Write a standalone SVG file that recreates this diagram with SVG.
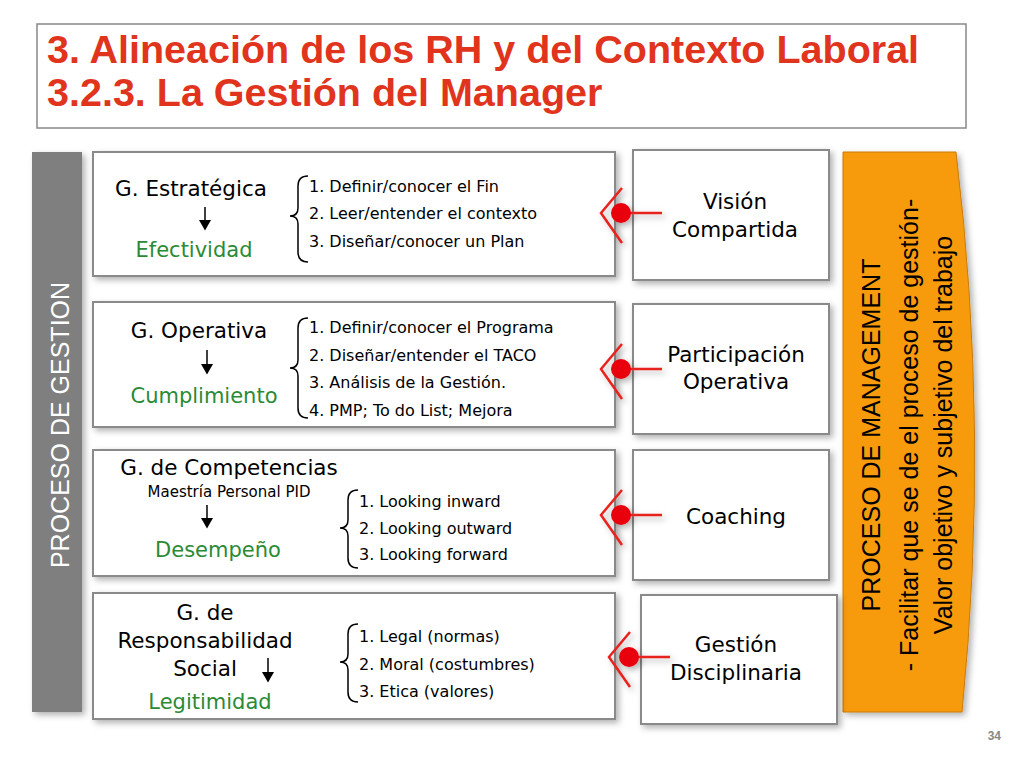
<svg xmlns="http://www.w3.org/2000/svg" width="1024" height="768" viewBox="0 0 1024 768">
<style>
.t{font-family:"Liberation Sans",Arial,sans-serif;font-weight:bold;font-size:39.5px;fill:#e0341d}
.v{font-family:"DejaVu Sans",Verdana,sans-serif;fill:#000}
.h{font-size:21.5px}
.i{font-size:16px}
.g{font-size:21px;fill:#2b8a35}
.box{fill:#fff;stroke:#8a8a8a;stroke-width:2}
.br{fill:none;stroke:#000;stroke-width:1.5}
.ar{stroke:#000;stroke-width:1.5;marker-end:url(#ah)}
.rl{fill:none;stroke:#e8211c;stroke-width:2.5}
.o{font-family:"Liberation Sans",Arial,sans-serif;font-size:25px;fill:#000}
</style>
<defs>
<marker id="ah" markerWidth="8" markerHeight="8" refX="6" refY="4" orient="auto"><path d="M0,0 L7,4 L0,8 z" fill="#000"/></marker>
<filter id="sh" x="-20%" y="-20%" width="140%" height="140%"><feDropShadow dx="3" dy="3" stdDeviation="3" flood-color="#000" flood-opacity="0.3"/></filter>
</defs>
<rect width="1024" height="768" fill="#fff"/>
<g id="title">
<rect x="37" y="24" width="929" height="104" fill="#fff" stroke="#888" stroke-width="1.5"/>
<text class="t" x="47" y="63">3. Alineación de los RH y del Contexto Laboral</text>
<text class="t" x="47" y="106">3.2.3. La Gestión del Manager</text>
</g>
<g id="gestion">
<rect x="32" y="152" width="50" height="560" fill="#7f7f7f" filter="url(#sh)"/>
<text transform="translate(69,425) rotate(-90)" text-anchor="middle" font-family="Liberation Sans,Arial,sans-serif" font-size="25" fill="#fff">PROCESO DE GESTION</text>
</g>
<g id="management">
<path d="M843,152 L956,152 Q990,432 962,712 L843,712 Z" fill="#f79b0f" stroke="#c77b0a" stroke-width="1" filter="url(#sh)"/>
<text transform="translate(880,435) rotate(-90)" text-anchor="middle" class="o">PROCESO DE MANAGEMENT</text>
<text transform="translate(918,435) rotate(-90)" text-anchor="middle" class="o">- Facilitar que se de el proceso de gestión-</text>
<text transform="translate(952,435) rotate(-90)" text-anchor="middle" class="o">Valor objetivo y subjetivo del trabajo</text>
</g>
<g id="row1">
<rect class="box" x="93" y="152" width="522" height="124" filter="url(#sh)"/>
<text class="v h" x="191" y="196" text-anchor="middle">G. Estratégica</text>
<line class="ar" x1="205" y1="207" x2="205" y2="229"/>
<text class="v g" x="194" y="257" text-anchor="middle">Efectividad</text>
<path class="br" d="M308,176 Q298,176 298,186 L298,208 Q298,216 290,216 Q298,216 298,224 L298,252 Q298,262 308,262"/>
<text class="v i" x="309" y="192">1. Definir/conocer el Fin</text>
<text class="v i" x="309" y="219">2. Leer/entender el contexto</text>
<text class="v i" x="309" y="247">3. Diseñar/conocer un Plan</text>
</g>
<g id="row2">
<rect class="box" x="93" y="302" width="522" height="125" filter="url(#sh)"/>
<text class="v h" x="199" y="338" text-anchor="middle">G. Operativa</text>
<line class="ar" x1="207" y1="350" x2="207" y2="373"/>
<text class="v g" x="204" y="403" text-anchor="middle">Cumplimiento</text>
<path class="br" d="M308,318 Q298,318 298,328 L298,360 Q298,368 290,368 Q298,368 298,376 L298,408 Q298,418 308,418"/>
<text class="v i" x="309" y="333">1. Definir/conocer el Programa</text>
<text class="v i" x="309" y="361">2. Diseñar/entender el TACO</text>
<text class="v i" x="309" y="388">3. Análisis de la Gestión.</text>
<text class="v i" x="309" y="416">4. PMP; To do List; Mejora</text>
</g>
<g id="row3">
<rect class="box" x="93" y="450" width="522" height="126" filter="url(#sh)"/>
<text class="v h" x="229" y="475" text-anchor="middle">G. de Competencias</text>
<text class="v" font-size="15" x="229" y="497" text-anchor="middle">Maestría Personal PID</text>
<line class="ar" x1="207" y1="505" x2="207" y2="527"/>
<text class="v g" x="218" y="557" text-anchor="middle">Desempeño</text>
<path class="br" d="M358,490 Q348,490 348,500 L348,520 Q348,528 340,528 Q348,528 348,536 L348,558 Q348,568 358,568"/>
<text class="v i" x="359" y="507">1. Looking inward</text>
<text class="v i" x="359" y="534">2. Looking outward</text>
<text class="v i" x="359" y="560">3. Looking forward</text>
</g>
<g id="row4">
<rect class="box" x="93" y="593" width="522" height="126" filter="url(#sh)"/>
<text class="v h" x="205" y="620" text-anchor="middle">G. de</text>
<text class="v h" x="205" y="648" text-anchor="middle">Responsabilidad</text>
<text class="v h" x="205" y="676" text-anchor="middle">Social</text>
<line class="ar" x1="268" y1="658" x2="268" y2="681"/>
<text class="v g" x="210" y="709" text-anchor="middle">Legitimidad</text>
<path class="br" d="M358,624 Q348,624 348,634 L348,654 Q348,662 340,662 Q348,662 348,670 L348,692 Q348,702 358,702"/>
<text class="v i" x="359" y="642">1. Legal (normas)</text>
<text class="v i" x="359" y="670">2. Moral (costumbres)</text>
<text class="v i" x="359" y="697">3. Etica (valores)</text>
</g>
<g id="n-vision">
<rect class="box" x="633" y="150" width="196" height="130" filter="url(#sh)"/>
<text class="v h" x="735" y="209" text-anchor="middle">Visión</text>
<text class="v h" x="735" y="237" text-anchor="middle">Compartida</text>
</g>
<g id="n-participacion">
<rect class="box" x="633" y="304" width="196" height="130" filter="url(#sh)"/>
<text class="v h" x="736" y="362" text-anchor="middle">Participación</text>
<text class="v h" x="736" y="389" text-anchor="middle">Operativa</text>
</g>
<g id="n-coaching">
<rect class="box" x="633" y="450" width="196" height="130" filter="url(#sh)"/>
<text class="v h" x="736" y="524" text-anchor="middle">Coaching</text>
</g>
<g id="n-disciplinaria">
<rect class="box" x="641" y="595" width="196" height="129" filter="url(#sh)"/>
<text class="v h" x="736" y="652" text-anchor="middle">Gestión</text>
<text class="v h" x="736" y="680" text-anchor="middle">Disciplinaria</text>
</g>
<g id="connectors" filter="url(#sh)">
<g>
<path class="rl" d="M622,188 L601,213 L622,243"/><line class="rl" x1="622" y1="213" x2="662" y2="213"/><circle cx="621" cy="213" r="10" fill="#e8000b"/>
</g>
<g transform="translate(0,156)">
<path class="rl" d="M622,188 L601,213 L622,243"/><line class="rl" x1="622" y1="213" x2="662" y2="213"/><circle cx="621" cy="213" r="10" fill="#e8000b"/>
</g>
<g transform="translate(0,302)">
<path class="rl" d="M622,188 L601,213 L622,243"/><line class="rl" x1="622" y1="213" x2="662" y2="213"/><circle cx="621" cy="213" r="10" fill="#e8000b"/>
</g>
<g transform="translate(8,444)">
<path class="rl" d="M622,188 L601,213 L622,243"/><line class="rl" x1="622" y1="213" x2="662" y2="213"/><circle cx="621" cy="213" r="10" fill="#e8000b"/>
</g>
</g>
<text x="1001" y="740" text-anchor="end" font-family="Liberation Sans,Arial,sans-serif" font-size="12" font-weight="bold" fill="#888">34</text>
</svg>
